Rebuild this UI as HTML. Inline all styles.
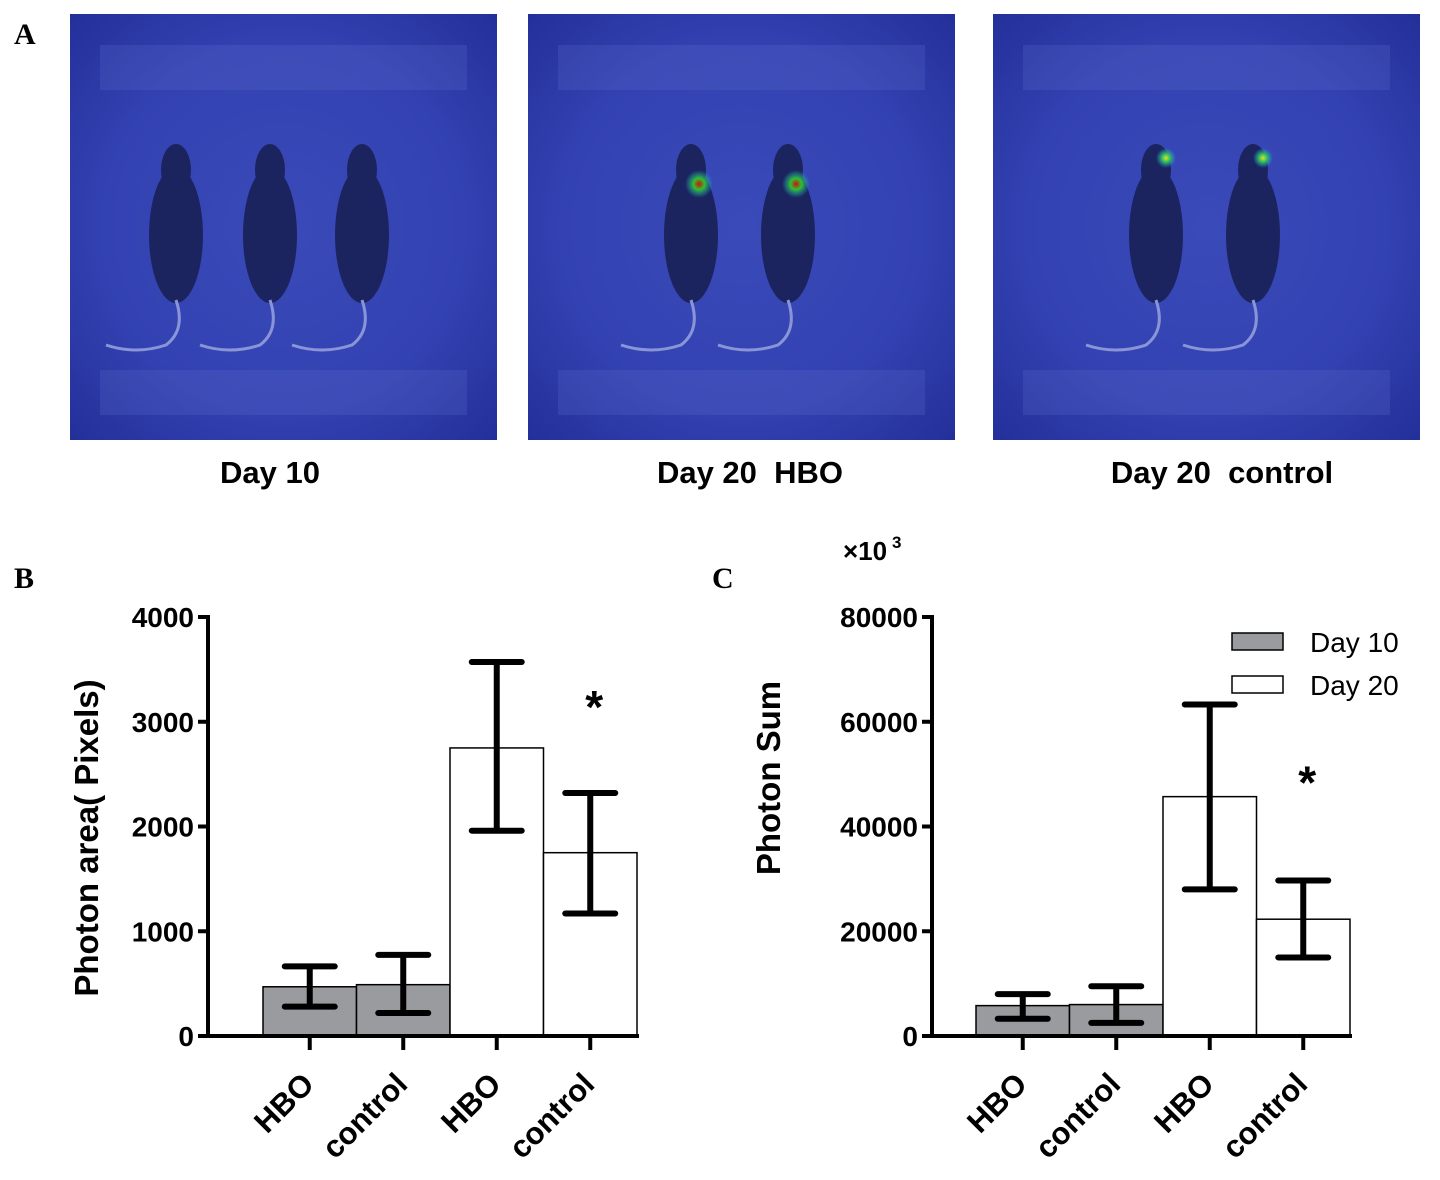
<!DOCTYPE html>
<html><head><meta charset="utf-8"><style>
html,body{margin:0;padding:0;background:#fff;}
body{width:1440px;height:1175px;position:relative;overflow:hidden;font-family:"Liberation Sans",sans-serif;}
</style></head><body>
<svg id="fig" width="1440" height="1175" viewBox="0 0 1440 1175">
<defs>
<radialGradient id="bg" cx="50%" cy="50%" r="70%">
<stop offset="0" stop-color="#3a4ab8"/><stop offset="0.6" stop-color="#3342b2"/><stop offset="1" stop-color="#24309a"/>
</radialGradient>
<radialGradient id="hot"><stop offset="0" stop-color="#d01010"/><stop offset="0.4" stop-color="#30c030"/><stop offset="1" stop-color="#20a0c0" stop-opacity="0"/></radialGradient>
<radialGradient id="warm"><stop offset="0" stop-color="#e0e020"/><stop offset="0.4" stop-color="#30c060"/><stop offset="1" stop-color="#20a0c0" stop-opacity="0"/></radialGradient>
</defs>
<text x="14" y="44" font-family="Liberation Serif" font-weight="bold" font-size="30">A</text>
<text x="14" y="588" font-family="Liberation Serif" font-weight="bold" font-size="30">B</text>
<text x="712" y="588" font-family="Liberation Serif" font-weight="bold" font-size="30">C</text>
<g id="imgs"></g>
<g id="chartB"></g>
<g id="chartC"></g>
</svg>
<script>
const NS="http://www.w3.org/2000/svg";
function mk(p,t,a,txt){const e=document.createElementNS(NS,t);for(const k in a)e.setAttribute(k,a[k]);if(txt!==undefined)e.textContent=txt;p.appendChild(e);return e;}
// Panel A images
const imgX=[70,528,993];
const imgTitles=["Day 10","Day 20\u00a0\u00a0HBO","Day 20\u00a0\u00a0control"];
const titleX=[270,750,1222];
const mouseCounts=[3,2,2];
const imgs=document.getElementById('imgs');
imgX.forEach((x,i)=>{
  const g=mk(imgs,'g',{});
  
  
  mk(g,'rect',{x:x,y:14,width:427,height:426,fill:'url(#bg)'});
  mk(g,'rect',{x:x+30,y:45,width:367,height:45,fill:'#6a78d0',opacity:0.2});
  mk(g,'rect',{x:x+30,y:370,width:367,height:45,fill:'#6a78d0',opacity:0.2});
  const n=mouseCounts[i];
  const cs=n===3?[x+106,x+200,x+292]:[x+163,x+260];
  cs.forEach((cx,j)=>{
    mk(g,'ellipse',{cx:cx,cy:235,rx:27,ry:68,fill:'#1c2460'});
    mk(g,'ellipse',{cx:cx,cy:170,rx:15,ry:26,fill:'#1c2460'});
    mk(g,'path',{d:`M${cx} 300 q10 30 -10 45 q-30 10 -60 0`,stroke:'#8a95d8','stroke-width':3,fill:'none'});
    if(i===1)mk(g,'circle',{cx:cx+8,cy:184,r:14,fill:'url(#hot)'});
    if(i===2)mk(g,'circle',{cx:cx+10,cy:158,r:10,fill:'url(#warm)'});
  });
  const t=mk(imgs,'text',{x:titleX[i],y:483,'text-anchor':'middle','font-weight':'bold','font-size':31},imgTitles[i]);
  
  
});

// Chart data
const categories=["HBO","control","HBO","control"];
const groups=["Day 10","Day 10","Day 20","Day 20"];
const areaValues=[470,490,2750,1750];
const areaLow=[280,220,1960,1170];
const areaHigh=[665,775,3570,2320];
const areaTicks=[0,1000,2000,3000,4000];
const sumValues=[5800,6000,45700,22300];
const sumLow=[3300,2500,28000,15000];
const sumHigh=[8000,9500,63300,29700];
const sumTicks=[0,20000,40000,60000,80000];

function chart(id,axisX,barX0,ymax,vals,lo,hi,ticks,ylabel,ylabelX,ylabelY,starIdx,starOff){
  const g=document.getElementById(id);
  const y0=1036,y1=617,bw=93.5;
  const ys=v=>y0-(v/ymax)*(y0-y1);
  vals.forEach((v,i)=>{
    const r=mk(g,'rect',{x:barX0+i*bw,y:ys(v),width:bw,height:y0-ys(v),fill:groups[i]==="Day 10"?'#9a9b9e':'#fff',stroke:'#000','stroke-width':1.5});
    
    
    const cx=barX0+i*bw+bw/2;
    const e=mk(g,'path',{d:`M${cx} ${ys(hi[i])}V${ys(lo[i])}M${cx-25} ${ys(hi[i])}H${cx+25}M${cx-25} ${ys(lo[i])}H${cx+25}`,stroke:'#000','stroke-width':6,'stroke-linecap':'round',fill:'none'});
    
    
    mk(g,'line',{x1:cx,y1:y0,x2:cx,y2:y0+14,stroke:'#000','stroke-width':4});
    const t=mk(g,'text',{transform:`translate(${cx+6},${y0+50}) rotate(-45)`,'text-anchor':'end','font-weight':'bold','font-size':31},categories[i]);
    
    
  });
  const ax=mk(g,'path',{d:`M${axisX} ${y1-2}V${y0}H${barX0+4*bw+2}`,stroke:'#000','stroke-width':4,fill:'none'});
  
  
  ticks.forEach(tv=>{
    mk(g,'line',{x1:axisX-10,y1:ys(tv),x2:axisX,y2:ys(tv),stroke:'#000','stroke-width':4});
    const t=mk(g,'text',{x:axisX-14,y:ys(tv)+10,'text-anchor':'end','font-weight':'bold','font-size':28},String(tv));
    
    
  });
  const yl=mk(g,'text',{transform:`translate(${ylabelX},${ylabelY}) rotate(-90)`,'text-anchor':'middle','font-weight':'bold','font-size':33},ylabel);
  
  
  const cx=barX0+starIdx*bw+bw/2;
  const s=mk(g,'text',{x:cx+4,y:ys(hi[starIdx])-starOff,'text-anchor':'middle','font-weight':'bold','font-size':46},'*');
  
  
}
chart('chartB',208,263,4000,areaValues,areaLow,areaHigh,areaTicks,'Photon area( Pixels)',98,838,3,70);
chart('chartC',932,976,80000,sumValues,sumLow,sumHigh,sumTicks,'Photon Sum',780,778,3,82);
const gc=document.getElementById('chartC');
const mul=mk(gc,'text',{x:843,y:560,'font-size':26,'font-weight':'bold'},'×10');


mk(gc,'text',{x:892,y:548,'font-size':17,'font-weight':'bold'},'3');
const legendLabels=["Day 10","Day 20"];
const legendFill=['#9a9b9e','#fff'];
legendLabels.forEach((l,i)=>{
  const g=mk(gc,'g',{});
  
  
  mk(g,'rect',{x:1232,y:633+i*43,width:51,height:17,fill:legendFill[i],stroke:'#000','stroke-width':1.5});
  mk(g,'text',{x:1310,y:652+i*43,'font-size':28},l);
});
</script>
</body></html>
